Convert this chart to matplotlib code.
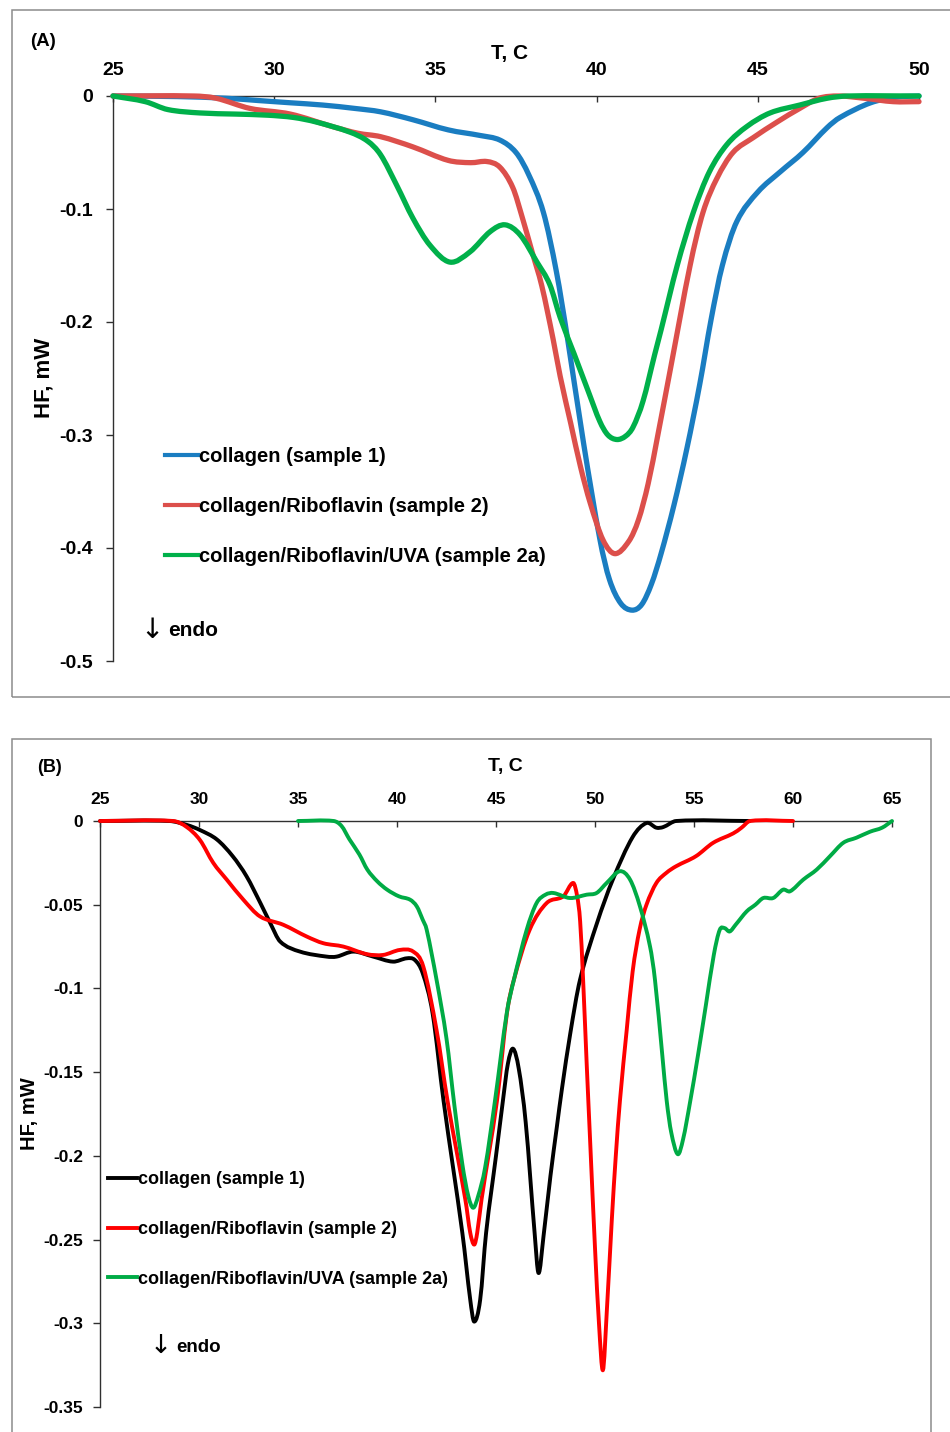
import matplotlib
matplotlib.use("Agg")
import matplotlib.pyplot as plt
from matplotlib.patches import Rectangle, PathPatch
from matplotlib.path import Path
from matplotlib.lines import Line2D
from matplotlib.ticker import FuncFormatter

plt.rcParams["font.family"] = ["Liberation Sans", "DejaVu Sans"]
plt.rcParams["font.weight"] = "bold"
plt.rcParams["axes.unicode_minus"] = False

# ---------------- Panel A: DSC curves, 25-50 C ----------------
a_labels = ["collagen (sample 1)",
            "collagen/Riboflavin (sample 2)",
            "collagen/Riboflavin/UVA (sample 2a)"]
a_colors = ["#1a7dc1", "#dc4f4b", "#00b04a"]

a_t1 = [25, 27, 28.5, 29.5, 30.5, 31.5, 32.5, 33.3, 34.3, 35.4, 36.4, 37.0, 37.5,
        37.9, 38.35, 38.75, 39.1, 39.6, 40.1, 40.4, 40.75, 41.1, 41.4, 41.7, 42.0,
        42.4, 42.8, 43.2, 43.55, 43.9, 44.35, 45.0, 45.7, 46.4, 47.15, 47.55, 48.5,
        49.3, 50]
a_hf1 = [0, -0.0005, -0.002, -0.004, -0.006, -0.008, -0.011, -0.014, -0.021, -0.030,
         -0.035, -0.039, -0.050, -0.070, -0.103, -0.155, -0.215, -0.308, -0.392,
         -0.428, -0.449, -0.455, -0.450, -0.432, -0.405, -0.362, -0.312, -0.255,
         -0.198, -0.150, -0.111, -0.085, -0.067, -0.050, -0.028, -0.019, -0.006,
         -0.001, 0]

a_t2 = [25, 27.5, 28.2, 29.25, 30.5, 31.8, 32.6, 33.3, 34.3, 35.4, 36.1, 36.6, 37.0,
        37.4, 37.7, 38.0, 38.3, 38.65, 38.87, 39.2, 39.5, 39.8, 40.2, 40.57, 41.0,
        41.3, 41.6, 41.9, 42.3, 42.9, 43.3, 43.73, 44.23, 44.85, 45.6, 46.3, 46.9,
        47.5, 48.3, 49.2, 50]
a_hf2 = [0, 0, -0.002, -0.011, -0.016, -0.027, -0.033, -0.036, -0.045, -0.057, -0.059,
         -0.058, -0.063, -0.081, -0.108, -0.138, -0.168, -0.215, -0.248, -0.290,
         -0.328, -0.360, -0.393, -0.405, -0.394, -0.375, -0.343, -0.300, -0.240,
         -0.150, -0.103, -0.073, -0.050, -0.037, -0.023, -0.011, -0.002, 0, -0.002,
         -0.005, -0.005]

a_t3 = [25, 26, 26.7, 27.7, 28.8, 29.8, 30.6, 31.3, 32.35, 32.9, 33.3, 33.8, 34.3,
        34.83, 35.45, 36.07, 36.7, 37.16, 37.63, 38.15, 38.55, 38.87, 39.3, 39.75,
        40.1, 40.35, 40.63, 40.9, 41.13, 41.44, 41.8, 42.0, 42.5, 43.0, 43.5, 44.04,
        44.66, 45.38, 46.3, 47.15, 47.8, 50]
a_hf3 = [0, -0.005, -0.012, -0.015, -0.016, -0.017, -0.019, -0.023, -0.032, -0.040,
         -0.052, -0.079, -0.108, -0.132, -0.147, -0.138, -0.120, -0.114, -0.123,
         -0.147, -0.167, -0.196, -0.228, -0.262, -0.288, -0.300, -0.304, -0.301,
         -0.293, -0.270, -0.229, -0.207, -0.150, -0.103, -0.067, -0.043, -0.027,
         -0.015, -0.008, -0.002, 0, 0]

a_xticks = [25, 30, 35, 40, 45, 50]
a_yticks = [0, -0.1, -0.2, -0.3, -0.4, -0.5]

# ---------------- Panel B: DSC curves, 25-65 C ----------------
b_labels = ["collagen (sample 1)",
            "collagen/Riboflavin (sample 2)",
            "collagen/Riboflavin/UVA (sample 2a)"]
b_colors = ["#000000", "#ff0000", "#00ab45"]

b_t1 = [25, 28.5, 29.4, 30.05, 30.9, 31.7, 32.4, 33.1, 33.6, 34.1, 35.1, 36.45, 36.95,
        37.8, 38.8, 39.8, 40.5, 40.9, 41.3, 41.8, 42.35, 43.3, 43.7, 43.9, 44.2, 44.5,
        45.0, 45.35, 45.6, 45.86, 46.15, 46.5, 46.95, 47.15, 47.4, 47.75, 48.07,
        48.33, 48.75, 49.24, 50.1, 50.9, 51.9, 52.6, 53.1, 53.45, 54.1, 57.8]
b_hf1 = [0, 0, -0.0024, -0.0054, -0.011, -0.021, -0.033, -0.049, -0.061, -0.072,
         -0.078, -0.081, -0.081, -0.078, -0.081, -0.084, -0.082, -0.083, -0.091,
         -0.115, -0.167, -0.246, -0.286, -0.299, -0.286, -0.246, -0.200, -0.167,
         -0.145, -0.136, -0.148, -0.180, -0.246, -0.270, -0.248, -0.212, -0.183,
         -0.160, -0.127, -0.095, -0.061, -0.035, -0.0096, -0.0012, -0.004, -0.0036,
         0, 0]

b_t2 = [25, 28.7, 29.38, 30.05, 30.72, 31.4, 32.24, 33.08, 34.26, 35.44, 36.28, 37.29,
        38.47, 39.3, 40.15, 40.82, 41.33, 42.0, 42.55, 43.45, 43.7, 43.9, 44.05, 44.27,
        45.05, 45.55, 45.9, 46.7, 47.56, 48.4, 48.9, 49.1, 49.25, 49.4, 49.58, 49.75,
        50.0, 50.2, 50.4, 50.6, 50.85, 51.05, 51.26, 51.6, 51.9, 52.25, 52.6, 53.1,
        53.6, 54.1, 55.1, 55.97, 56.98, 57.4, 57.83, 60]
b_hf2 = [0, 0, -0.0036, -0.0114, -0.025, -0.035, -0.047, -0.057, -0.062, -0.069,
         -0.073, -0.075, -0.0795, -0.080, -0.077, -0.078, -0.087, -0.125, -0.167,
         -0.226, -0.246, -0.253, -0.246, -0.226, -0.167, -0.115, -0.095, -0.065,
         -0.049, -0.045, -0.037, -0.045, -0.060, -0.095, -0.145, -0.190, -0.255,
         -0.300, -0.328, -0.292, -0.238, -0.200, -0.167, -0.125, -0.090, -0.065,
         -0.050, -0.037, -0.031, -0.027, -0.021, -0.013, -0.0074, -0.004, 0, 0]

b_t3 = [35, 36.8, 37.2, 37.6, 38.1, 38.5, 39.0, 39.5, 40.1, 40.66, 41.0, 41.3, 41.5,
        42.0, 42.5, 42.9, 43.3, 43.6, 43.85, 44.1, 44.45, 44.95, 45.54, 45.9, 46.55,
        47.05, 47.5, 47.9, 48.74, 49.58, 50.08, 50.59, 51.26, 51.77, 52.27, 52.78,
        53.03, 53.4, 53.62, 53.85, 54.18, 54.45, 54.8, 55.2, 55.6, 56.0, 56.3, 56.55,
        56.8, 57.1, 57.66, 58.1, 58.5, 59.0, 59.5, 59.85, 60.52, 61.2, 61.87, 62.54,
        63.2, 63.89, 64.5, 65]
b_hf3 = [0, 0, -0.003, -0.011, -0.020, -0.029, -0.036, -0.041, -0.045, -0.047,
         -0.051, -0.059, -0.065, -0.095, -0.130, -0.170, -0.205, -0.224, -0.231,
         -0.224, -0.207, -0.167, -0.115, -0.095, -0.065, -0.049, -0.044, -0.043,
         -0.046, -0.044, -0.043, -0.037, -0.030, -0.035, -0.051, -0.075, -0.095,
         -0.140, -0.167, -0.186, -0.199, -0.190, -0.168, -0.140, -0.110, -0.080,
         -0.065, -0.064, -0.066, -0.062, -0.054, -0.050, -0.046, -0.046, -0.041,
         -0.042, -0.035, -0.029, -0.021, -0.013, -0.010, -0.0064, -0.004, 0]

b_xticks = [25, 30, 35, 40, 45, 50, 55, 60, 65]
b_yticks = [0, -0.05, -0.1, -0.15, -0.2, -0.25, -0.3, -0.35]

# ---------------- figure layout (pixel helpers) ----------------
W, H = 950, 1432
fig = plt.figure(figsize=(W / 100, H / 100), dpi=100)


def fx(px):
    return px / W


def fy(py):
    return 1 - py / H


frame_color = "#8c8c8c"
fig.add_artist(Rectangle((fx(12), fy(697)), fx(1000 - 12), (697 - 10) / H,
                         transform=fig.transFigure, fill=False,
                         edgecolor=frame_color, linewidth=1.1))
fig.add_artist(Rectangle((fx(12), fy(1500)), fx(930.5 - 12), (1500 - 739) / H,
                         transform=fig.transFigure, fill=False,
                         edgecolor=frame_color, linewidth=1.1))

fmt = FuncFormatter(lambda v, pos: "%g" % round(v, 3))


def style_axes(ax, xlim, ylim, xticks, yticks, size, xpad, ypad):
    ax.set_xlim(*xlim)
    ax.set_ylim(*ylim)
    ax.set_xticks(xticks)
    ax.set_yticks(yticks)
    ax.xaxis.tick_top()
    ax.spines["right"].set_visible(False)
    ax.spines["bottom"].set_visible(False)
    for s in ("left", "top"):
        ax.spines[s].set_color("#303030")
        ax.spines[s].set_linewidth(1.0)
    ax.tick_params(axis="x", which="both", direction="in", length=4, width=1.0,
                   color="#303030", pad=xpad, labelsize=size, top=True, bottom=False)
    ax.tick_params(axis="y", direction="out", length=5, width=1.0, color="#303030",
                   pad=ypad, labelsize=size)
    ax.yaxis.set_major_formatter(fmt)
    ax.patch.set_visible(False)


def smooth_line(ax, t, hf, color, lw):
    """Draw a smoothed curve through the measured points as cubic Bezier
    segments (Hermite tangents from neighbouring points), in data coordinates."""
    n = len(t)
    slopes = []
    for i in range(n):
        if i == 0:
            slopes.append((hf[1] - hf[0]) / (t[1] - t[0]))
        elif i == n - 1:
            slopes.append((hf[-1] - hf[-2]) / (t[-1] - t[-2]))
        else:
            slopes.append((hf[i + 1] - hf[i - 1]) / (t[i + 1] - t[i - 1]))
    verts = [(t[0], hf[0])]
    codes = [Path.MOVETO]
    for i in range(n - 1):
        h = t[i + 1] - t[i]
        verts += [(t[i] + h / 3, hf[i] + slopes[i] * h / 3),
                  (t[i + 1] - h / 3, hf[i + 1] - slopes[i + 1] * h / 3),
                  (t[i + 1], hf[i + 1])]
        codes += [Path.CURVE4] * 3
    patch = PathPatch(Path(verts, codes), facecolor="none", edgecolor=color,
                      linewidth=lw, capstyle="round", joinstyle="round",
                      clip_on=False, zorder=3)
    ax.add_patch(patch)
    return Line2D([], [], color=color, linewidth=lw)


# ---------------- Panel A ----------------
axA = fig.add_axes([fx(113), fy(661), (919 - 113) / W, (661 - 96) / H])
style_axes(axA, (25, 50), (-0.5, 0), a_xticks, a_yticks, 14, 12.5, 9.5)
handlesA = [smooth_line(axA, t, hf, c, 3.8)
            for t, hf, c in zip([a_t1, a_t2, a_t3], [a_hf1, a_hf2, a_hf3], a_colors)]
legA = axA.legend(handlesA, a_labels, loc="center left",
                  bbox_to_anchor=(fx(165), fy(506.5)),
                  bbox_transform=fig.transFigure, frameon=False, fontsize=14.5,
                  handlelength=1.65, handletextpad=0.05, labelspacing=1.55,
                  borderpad=0, borderaxespad=0)
for ln in legA.get_lines():
    ln.set_linewidth(3.0)

fig.text(fx(510), fy(53), "T, C", ha="center", va="center", fontsize=15)
fig.text(fx(44), fy(378), "HF, mW", ha="center", va="center", rotation=90, fontsize=16)
fig.text(fx(30), fy(41), "(A)", ha="left", va="center", fontsize=13.5)
fig.text(fx(152), fy(630), "\u2193", ha="center", va="center", fontsize=20,
         fontweight="normal", family="DejaVu Sans")
fig.text(fx(168), fy(630), "endo", ha="left", va="center", fontsize=15)

# ---------------- Panel B ----------------
axB = fig.add_axes([fx(100), fy(1407), (892 - 100) / W, (1407 - 821) / H])
style_axes(axB, (25, 65), (-0.35, 0), b_xticks, b_yticks, 12.5, 10, 7)
handlesB = [smooth_line(axB, t, hf, c, 2.8)
            for t, hf, c in zip([b_t1, b_t2, b_t3], [b_hf1, b_hf2, b_hf3], b_colors)]
legB = axB.legend(handlesB, b_labels, loc="center left",
                  bbox_to_anchor=(fx(108), fy(1229.5)),
                  bbox_transform=fig.transFigure, frameon=False, fontsize=13,
                  handlelength=1.6, handletextpad=0.05, labelspacing=1.8,
                  borderpad=0, borderaxespad=0)
for ln in legB.get_lines():
    ln.set_linewidth(2.8)

fig.text(fx(505), fy(767), "T, C", ha="center", va="center", fontsize=14)
fig.text(fx(29), fy(1114), "HF, mW", ha="center", va="center", rotation=90, fontsize=14.5)
fig.text(fx(37), fy(768), "(B)", ha="left", va="center", fontsize=13)
fig.text(fx(161), fy(1346), "\u2193", ha="center", va="center", fontsize=19,
         fontweight="normal", family="DejaVu Sans")
fig.text(fx(176), fy(1347), "endo", ha="left", va="center", fontsize=13.5)

fig.savefig("out.png", dpi=100)
